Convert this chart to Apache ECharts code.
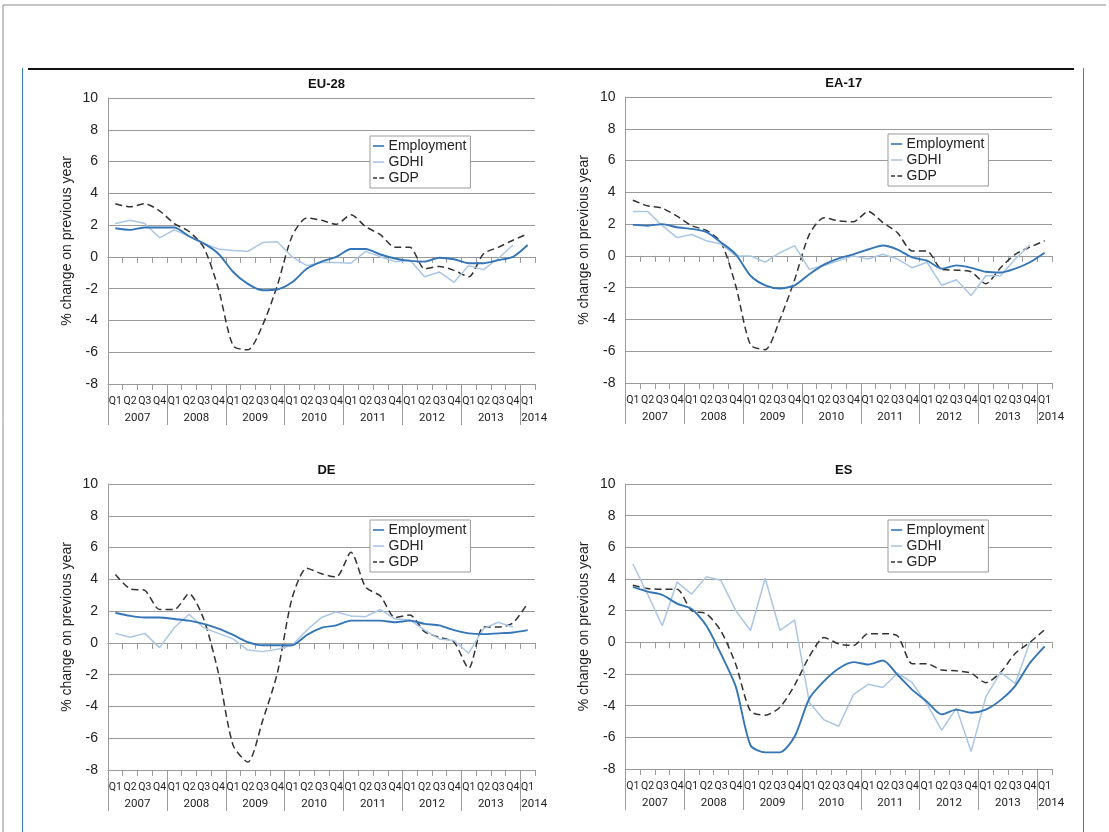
<!DOCTYPE html>
<html>
<head>
<meta charset="utf-8">
<title>Employment, GDHI and GDP</title>
<script src="https://cdn.jsdelivr.net/npm/echarts@6/dist/echarts.min.js"></script>
<style>
  html, body { margin: 0; padding: 0; background: #fff; }
  #chart { width: 1109px; height: 832px; }
</style>
</head>
<body>
<div id="chart"></div>
<script>
// categories
const quarters = ['Q1','Q2','Q3','Q4','Q1','Q2','Q3','Q4','Q1','Q2','Q3','Q4','Q1','Q2','Q3','Q4',
  'Q1','Q2','Q3','Q4','Q1','Q2','Q3','Q4','Q1','Q2','Q3','Q4','Q1'];
const years = ['2007','2008','2009','2010','2011','2012','2013','2014'];
const yearBounds = [0, 4, 8, 12, 16, 20, 24, 28];
const yearLabelPos = [2, 6, 10, 14, 18, 22, 26, 28.95];
const panelTitles = ['EU-28', 'EA-17', 'DE', 'ES'];
const seriesNames = ['Employment', 'GDHI', 'GDP'];

// % change on previous year
const eu28Employment = [1.8,1.7,1.85,1.85,1.85,1.3,0.85,0.2,-0.95,-1.7,-2.1,-2.05,-1.6,-0.75,-0.3,0.0,0.5,0.5,0.15,-0.1,-0.25,-0.3,-0.05,-0.15,-0.4,-0.4,-0.2,0.0,0.75];
const eu28Gdhi = [2.1,2.3,2.1,1.2,1.7,1.3,0.85,0.5,0.4,0.35,0.9,0.95,0.0,-0.55,-0.35,-0.35,-0.4,0.35,0.0,-0.3,-0.2,-1.25,-0.95,-1.6,-0.55,-0.8,-0.1,0.75,null];
const eu28Gdp = [3.35,3.15,3.35,2.9,2.1,1.6,0.6,-2.0,-5.6,-5.85,-4.3,-1.8,1.3,2.45,2.3,2.05,2.65,1.9,1.4,0.6,0.6,-0.75,-0.6,-0.85,-1.25,0.2,0.6,1.05,1.45];

const ea17Employment = [1.95,1.9,2.0,1.8,1.7,1.5,0.85,0.1,-1.25,-1.85,-2.05,-1.85,-1.15,-0.55,-0.15,0.1,0.4,0.65,0.4,-0.1,-0.3,-0.8,-0.6,-0.75,-1.0,-1.05,-0.8,-0.4,0.2];
const ea17Gdhi = [2.8,2.8,1.9,1.15,1.35,0.95,0.75,0.0,0.0,-0.4,0.2,0.65,-0.85,-0.6,-0.3,0.0,-0.2,0.1,-0.2,-0.75,-0.4,-1.85,-1.5,-2.5,-1.25,-1.25,-0.2,0.7,null];
const ea17Gdp = [3.5,3.15,3.0,2.5,1.9,1.6,0.85,-1.9,-5.6,-5.9,-4.0,-1.5,1.35,2.4,2.2,2.15,2.8,2.1,1.45,0.3,0.3,-0.85,-0.9,-1.0,-1.75,-0.75,0.1,0.55,0.95];

const deEmployment = [1.9,1.7,1.6,1.6,1.5,1.4,1.2,0.9,0.5,0.05,-0.15,-0.15,-0.15,0.5,0.95,1.1,1.4,1.4,1.4,1.3,1.4,1.2,1.1,0.8,0.6,0.55,0.6,0.65,0.8];
const deGdhi = [0.6,0.35,0.6,-0.3,0.95,1.8,0.95,0.6,0.25,-0.45,-0.55,-0.4,-0.15,0.8,1.6,1.95,1.7,1.65,2.1,1.5,1.45,0.8,0.25,0.15,-0.65,0.9,1.3,1.0,null];
const deGdp = [4.3,3.4,3.3,2.1,2.1,3.1,1.5,-1.9,-6.45,-7.5,-4.9,-1.9,2.8,4.7,4.35,4.15,5.7,3.5,2.95,1.6,1.75,0.7,0.35,0.05,-1.6,1.0,1.0,1.25,2.5];

const esEmployment = [3.5,3.2,3.0,2.45,2.1,1.05,-0.75,-2.8,-6.5,-6.95,-6.95,-5.95,-3.55,-2.45,-1.65,-1.25,-1.4,-1.15,-2.05,-3.0,-3.75,-4.55,-4.25,-4.45,-4.25,-3.65,-2.75,-1.3,-0.25];
const esGdhi = [4.95,3.05,1.05,3.8,3.05,4.15,3.9,2.0,0.75,4.05,0.75,1.4,-3.8,-4.9,-5.3,-3.3,-2.65,-2.85,-1.95,-2.55,-3.9,-5.55,-4.15,-6.9,-3.45,-1.9,-2.6,0.0,null];
const esGdp = [3.6,3.4,3.35,3.35,2.0,1.8,0.7,-1.4,-4.35,-4.6,-4.1,-2.7,-0.9,0.3,-0.1,-0.2,0.55,0.55,0.4,-1.35,-1.35,-1.75,-1.8,-1.95,-2.55,-1.9,-0.7,0.0,0.8];

const panelData = [
  [eu28Employment, eu28Gdhi, eu28Gdp],
  [ea17Employment, ea17Gdhi, ea17Gdp],
  [deEmployment, deGdhi, deGdp],
  [esEmployment, esGdhi, esGdp]
];

// layout of the 4 panels
const grids = [
  { left: 108, top: 98, width: 427, height: 286 },
  { left: 625.5, top: 97, width: 426.5, height: 286 },
  { left: 108, top: 484, width: 427, height: 286 },
  { left: 625.5, top: 484, width: 426.5, height: 285 }
];
const legendPos = [[370, 136], [888, 134], [370, 520], [888, 520]];

const gridGray = '#9a9a9a';
const textColor = '#222';
const small = "Roboto, 'Liberation Sans', sans-serif";
const regular = "'Liberation Sans', Arial, sans-serif";
const lineColors = ['#3375b7', '#aac6e6', '#333333'];
// legend keys: short solid line, short solid line, two dashes
const legendIcons = ['path://M0,0h14v2h-14z', 'path://M0,0h14v2h-14z', 'path://M0,0h5v2h-5zM8,0h6v2h-6z'];

const option = {
  animation: false,
  backgroundColor: '#fff',
  textStyle: { fontFamily: regular, color: textColor },
  title: [],
  legend: [],
  grid: [],
  xAxis: [],
  yAxis: [],
  series: [],
  graphic: [
    // page frame
    { type: 'line', shape: { x1: 3, y1: 5, x2: 1106, y2: 5 }, style: { stroke: '#8c8c8c', lineWidth: 1 } },
    { type: 'line', shape: { x1: 3, y1: 5, x2: 3, y2: 832 }, style: { stroke: '#8c8c8c', lineWidth: 1 } },
    { type: 'line', shape: { x1: 28, y1: 69, x2: 1074, y2: 69 }, style: { stroke: '#111', lineWidth: 2 } },
    { type: 'line', shape: { x1: 22.5, y1: 68, x2: 22.5, y2: 832 }, style: { stroke: '#3a7dc0', lineWidth: 1 } },
    { type: 'line', shape: { x1: 1083.5, y1: 68, x2: 1083.5, y2: 832 }, style: { stroke: '#3a7dc0', lineWidth: 1 } }
  ]
};

grids.forEach(function (g, p) {
  option.grid.push({ left: g.left, top: g.top, width: g.width, height: g.height, containLabel: false });

  option.title.push({
    text: panelTitles[p],
    left: g.left + g.width / 2,
    top: g.top - 25,
    textAlign: 'center',
    textStyle: { fontSize: 13, fontWeight: 'bold', color: '#111', fontFamily: regular }
  });

  option.legend.push({
    data: seriesNames.map(function (n, s) {
      return { name: n, icon: legendIcons[s], itemStyle: { color: lineColors[s] } };
    }),
    orient: 'vertical',
    left: legendPos[p][0],
    top: legendPos[p][1],
    padding: [3, 4, 3, 3],
    itemGap: 2,
    itemWidth: 14,
    itemHeight: 1.6,
    backgroundColor: '#fff',
    borderColor: '#9a9a9a',
    borderWidth: 1,
    borderRadius: 0,
    selectedMode: false,
    textStyle: { fontSize: 14, color: textColor, fontFamily: regular, padding: [0, 0, 0, -2] }
  });

  option.yAxis.push({
    gridIndex: p,
    type: 'value',
    min: -8,
    max: 10,
    interval: 2,
    name: '% change on previous year',
    nameLocation: 'middle',
    nameGap: 34,
    nameTextStyle: { fontSize: 14, color: textColor, fontFamily: regular },
    axisLine: { show: true, onZero: false, lineStyle: { color: gridGray, width: 1 } },
    axisTick: { show: false },
    axisLabel: { fontSize: 14, color: textColor, margin: 10, fontFamily: regular },
    splitLine: { show: true, lineStyle: { color: gridGray, width: 1 } }
  });

  const xBase = option.xAxis.length;
  // axis crossing at zero: line + ticks, no labels
  option.xAxis.push({
    gridIndex: p,
    type: 'category',
    data: quarters,
    boundaryGap: true,
    position: 'bottom',
    axisLine: { show: true, onZero: true, onZeroAxisIndex: p, lineStyle: { color: gridGray, width: 1 } },
    axisTick: { show: true, length: 6, interval: 0, lineStyle: { color: gridGray } },
    axisLabel: { show: false },
    splitLine: { show: false }
  });
  // bottom axis with quarter labels
  option.xAxis.push({
    gridIndex: p,
    type: 'category',
    data: quarters,
    boundaryGap: true,
    position: 'bottom',
    axisLine: { show: true, onZero: false, lineStyle: { color: gridGray, width: 1 } },
    axisTick: { show: true, length: 6, interval: 0, lineStyle: { color: gridGray } },
    axisLabel: { interval: 0, fontSize: 10.5, margin: 12, color: textColor, fontFamily: small },
    splitLine: { show: false }
  });
  // year separators and year labels
  option.xAxis.push({
    gridIndex: p,
    type: 'value',
    min: 0,
    max: 29,
    position: 'bottom',
    axisLine: { show: false, onZero: false },
    axisTick: { show: true, customValues: yearBounds, length: 41, lineStyle: { color: gridGray } },
    axisLabel: {
      customValues: yearLabelPos,
      fontSize: 11.5,
      margin: 28,
      color: textColor,
      fontFamily: small,
      formatter: function (v) {
        const i = yearLabelPos.indexOf(v);
        return i >= 0 ? years[i] : '';
      }
    },
    splitLine: { show: false }
  });

  panelData[p].forEach(function (vals, s) {
    option.series.push({
      name: seriesNames[s],
      type: 'line',
      xAxisIndex: xBase + 1,
      yAxisIndex: p,
      data: vals,
      symbol: 'none',
      smooth: s === 1 ? false : 0.25,
      connectNulls: false,
      lineStyle: {
        color: lineColors[s],
        width: s === 0 ? 1.9 : 1.5,
        type: s === 2 ? [7, 4] : 'solid'
      },
      itemStyle: { color: lineColors[s] },
      z: 3 - s
    });
  });
});

const chart = echarts.init(document.getElementById('chart'), null, { renderer: 'canvas' });
chart.setOption(option);
</script>
</body>
</html>
